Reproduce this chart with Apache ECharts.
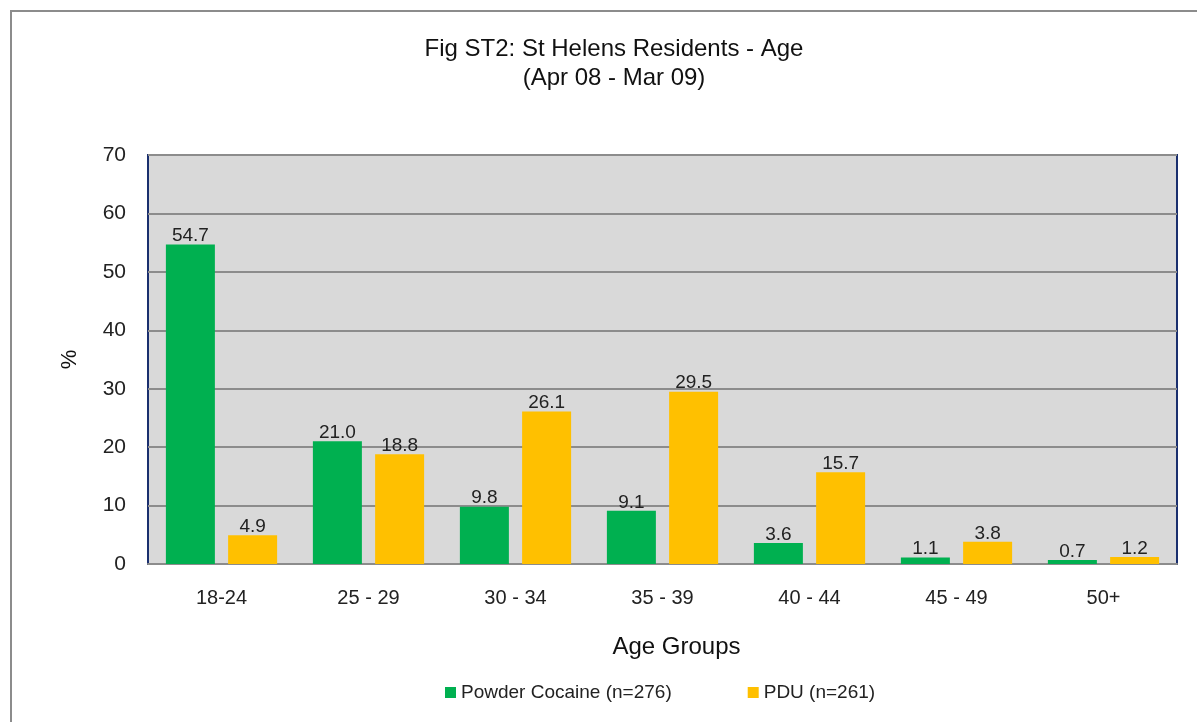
<!DOCTYPE html>
<html><head><meta charset="utf-8">
<script src="https://cdn.jsdelivr.net/npm/echarts@6/dist/echarts.min.js"></script>
<style>html,body{margin:0;padding:0;background:#fff}#c{width:1197px;height:722px}</style>
</head><body><div id="c"></div>
<script>
const categories = ['18-24','25 - 29','30 - 34','35 - 39','40 - 44','45 - 49','50+'];
const cocaine = [54.7, 21.0, 9.8, 9.1, 3.6, 1.1, 0.7];
const pdu = [4.9, 18.8, 26.1, 29.5, 15.7, 3.8, 1.2];
const seriesNames = ['Powder Cocaine (n=276)', 'PDU (n=261)'];
const yTicks = [0,10,20,30,40,50,60,70];

const font = 'Liberation Sans, Arial, sans-serif';
const chart = echarts.init(document.getElementById('c'));
const lbl = {show:true, position:'top', distance:-1, formatter: p => p.value.toFixed(1), fontFamily:font, fontSize:19, color:'#222'};
chart.setOption({
  animation:false,
  graphic:[{type:'polyline', shape:{points:[[11,722],[11,11],[1197,11]]}, style:{stroke:'#8c8c8c', lineWidth:2, fill:null}, silent:true}],
  title:{text:'Fig ST2: St Helens Residents - Age\n(Apr 08 - Mar 09)', left:609, textAlign:'center', top:30, textStyle:{fontFamily:font, fontSize:24, fontWeight:'normal', color:'#111', lineHeight:29}},
  grid:{left:148, right:20, top:155, bottom:158, show:true, backgroundColor:'#d9d9d9', borderColor:'#1a2f6e', borderWidth:2},
  legend:{bottom:15, left:440, itemWidth:11, itemHeight:11, itemGap:76, icon:'rect', textStyle:{fontFamily:font, fontSize:19, color:'#222'}, data:seriesNames},
  xAxis:{type:'category', data:categories, name:'Age Groups', nameLocation:'middle', nameGap:71, nameTextStyle:{fontFamily:font, fontSize:24, color:'#111', padding:[0,0,0,28]},
    axisLine:{lineStyle:{color:'#8c8c8c', width:2}}, axisTick:{show:false}, axisLabel:{margin:24, fontFamily:font, fontSize:20, color:'#222'}},
  yAxis:{type:'value', min:yTicks[0], max:yTicks[yTicks.length-1], interval:10, name:'%', nameLocation:'middle', nameGap:67, nameRotate:90,
    nameTextStyle:{fontFamily:font, fontSize:22, color:'#111'},
    axisLine:{show:false}, axisTick:{show:false}, axisLabel:{margin:22, fontFamily:font, fontSize:21, color:'#222'},
    splitLine:{lineStyle:{color:'#8c8c8c', width:2}}},
  series:[
    {name:seriesNames[0], type:'bar', data:cocaine, itemStyle:{color:'#00b050'}, barWidth:49, barGap:'27%', label:lbl},
    {name:seriesNames[1], type:'bar', data:pdu, itemStyle:{color:'#ffc000'}, barWidth:49, label:lbl}
  ]
});
</script></body></html>
